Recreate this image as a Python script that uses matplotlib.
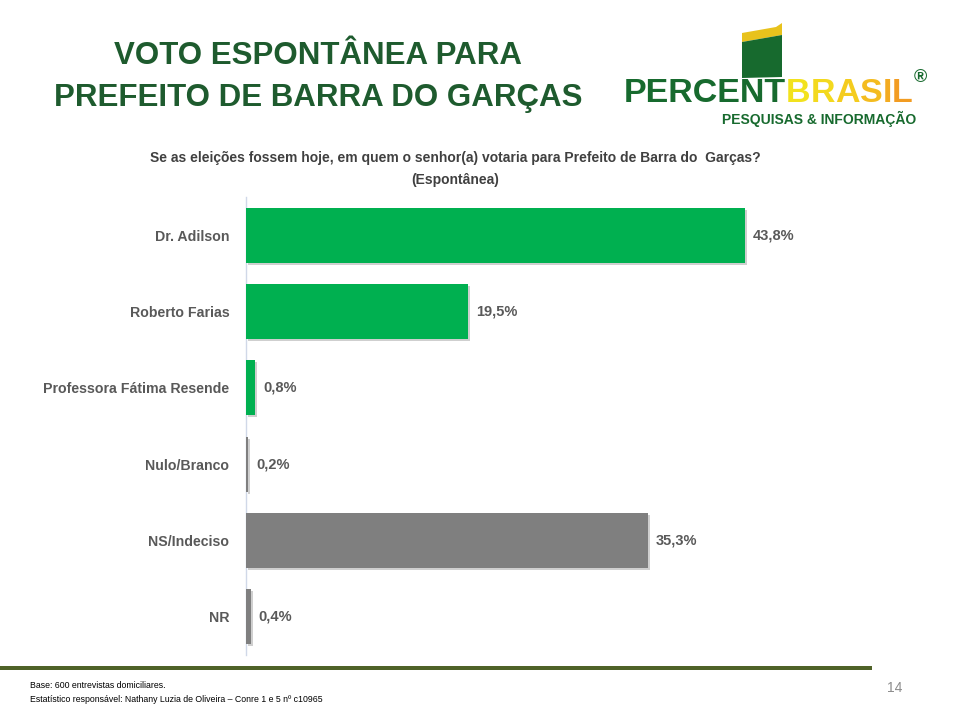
import matplotlib
matplotlib.use("Agg")
import matplotlib.pyplot as plt
import matplotlib.patheffects as pe
from matplotlib.patches import Polygon, Rectangle

plt.rcParams['font.family'] = ['Liberation Sans', 'DejaVu Sans']

# data
categorias = ["Dr. Adilson", "Roberto Farias", "Professora Fátima Resende",
              "Nulo/Branco", "NS/Indeciso", "NR"]
valores = [43.8, 19.5, 0.8, 0.2, 35.3, 0.4]
rotulos = ["43,8%", "19,5%", "0,8%", "0,2%", "35,3%", "0,4%"]
cores = ["#00b050", "#00b050", "#00b050", "#7f7f7f", "#7f7f7f", "#7f7f7f"]

verde_titulo = "#1e5b2e"
verde_logo = "#176a2e"
cinza_txt = "#595959"

fig = plt.figure(figsize=(9.6, 7.2), dpi=100)
renderer = fig.canvas.get_renderer()

ax = fig.add_axes([246/960, 1-655/720, (900-246)/960, (655-197)/720])
y = list(range(len(categorias)))
bars = ax.barh(y, valores, height=0.72, color=cores, zorder=3)
for b in bars:
    b.set_path_effects([pe.SimplePatchShadow(offset=(1.5, -1.5), shadow_rgbFace="#b0b0b0", alpha=0.6), pe.Normal()])
ax.set_ylim(len(categorias)-0.5, -0.5)
ax.set_xlim(0, (900-246)/(499/43.8))
for i, (v, r) in enumerate(zip(valores, rotulos)):
    ax.text(v + 0.7, i, r, va="center", ha="left", fontsize=10.5,
            fontweight="bold", color=cinza_txt)
ax.set_yticks(y)
ax.set_yticklabels(categorias, fontsize=10.2, fontweight="bold", color=cinza_txt)
ax.tick_params(axis="y", length=0, pad=12)
ax.set_xticks([])
for s in ["top", "right", "bottom"]:
    ax.spines[s].set_visible(False)
ax.spines["left"].set_color("#d0d8e8")
ax.spines["left"].set_linewidth(1.0)

# title
fig.text(318/960, 1-56/720, "VOTO ESPONTÂNEA PARA", ha="center", va="center",
         fontsize=22.5, fontweight="bold", color=verde_titulo)
fig.text(318/960, 1-98/720, "PREFEITO DE BARRA DO GARÇAS", ha="center", va="center",
         fontsize=22.5, fontweight="bold", color=verde_titulo)

# subtitle
fig.text(455/960, 1-158/720,
         "Se as eleições fossem hoje, em quem o senhor(a) votaria para Prefeito de Barra do  Garças?",
         ha="center", va="center", fontsize=10, fontweight="bold", color="#404040")
fig.text(455/960, 1-180/720, "(Espontânea)", ha="center", va="center",
         fontsize=10, fontweight="bold", color="#404040")

# logo
flag_g = Polygon([(742/960, 1-42/720), (782/960, 1-35/720), (782/960, 1-77/720),
                  (742/960, 1-78/720)], closed=True, transform=fig.transFigure,
                 facecolor=verde_logo, edgecolor="none")
flag_y = Polygon([(742/960, 1-33/720), (776/960, 1-27/720), (782/960, 1-23/720),
                  (782/960, 1-35/720), (742/960, 1-42/720)], closed=True,
                 transform=fig.transFigure, facecolor="#e8c21c", edgecolor="none")
fig.patches.extend([flag_y, flag_g])

logo_pos = 624
t = fig.text(logo_pos/960, 1-94/720, "PERCENT", ha="left", va="center", fontsize=24.5,
             fontweight="bold", color=verde_logo)
logo_pos += t.get_window_extent(renderer).width
cores_brasil = ["#f2e21e", "#f3d91e", "#f4cc1f", "#f4bc20", "#f3ab21", "#f29c22"]
for letra, c in zip("BRASIL", cores_brasil):
    t = fig.text(logo_pos/960, 1-94/720, letra, ha="left", va="center", fontsize=24.5,
                 fontweight="bold", color=c)
    logo_pos += t.get_window_extent(renderer).width
fig.text((logo_pos + 8)/960, 1-78/720, "®", ha="center", va="center", fontsize=13,
         fontweight="bold", color=verde_logo)
fig.text(916/960, 1-119/720, "PESQUISAS & INFORMAÇÃO", ha="right", va="center",
         fontsize=10, fontweight="bold", color=verde_logo)

# footer
fig.patches.append(Rectangle((0, 1-670/720), 872/960, 4/720, transform=fig.transFigure,
                             facecolor="#4f6228", edgecolor="none"))
fig.text(30/960, 1-686/720, "Base: 600 entrevistas domiciliares.", ha="left", va="center",
         fontsize=6.3, color="#000000")
fig.text(30/960, 1-700/720,
         "Estatístico responsável: Nathany Luzia de Oliveira – Conre 1 e 5 nº c10965",
         ha="left", va="center", fontsize=6.3, color="#000000")
fig.text(895/960, 1-688/720, "14", ha="center", va="center", fontsize=10, color="#8c8c8c")

fig.savefig("out.png", dpi=100, facecolor="white")
